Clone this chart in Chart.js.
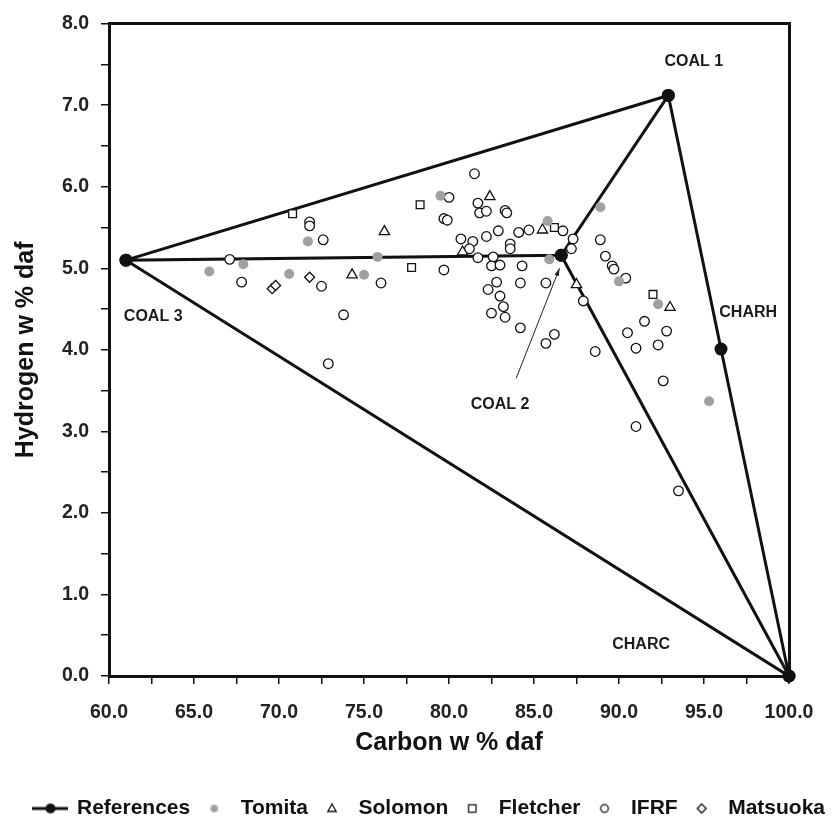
<!DOCTYPE html>
<html>
<head>
<meta charset="utf-8">
<script src="https://cdn.jsdelivr.net/npm/chart.js@4"></script>
<style>
html, body { margin: 0; padding: 0; background: #fff; }
#wrap { width: 833px; height: 821px; position: relative; }
</style>
</head>
<body>
<div id="wrap"><canvas id="chart"></canvas></div>
<script>
// reference points: COAL 3, COAL 1, CHARH, CHARC, COAL 2
const refNames = ['COAL 3', 'COAL 1', 'CHARH', 'CHARC', 'COAL 2'];
const refC = [61.0, 92.9, 96.0, 100.0, 86.6];
const refH = [5.10, 7.12, 4.01, 0.0, 5.16];
// order in which the triangle lines are walked (two strokes)
const refPath1 = [0, 1, 2, 3, 0, 4, 1];
const refPath2 = [4, 3];

const tomitaC = [65.9, 67.9, 70.6, 71.7, 75.0, 75.8, 79.5, 85.8, 85.9, 88.9, 90.0, 92.3, 95.3];
const tomitaH = [4.96, 5.05, 4.93, 5.33, 4.92, 5.14, 5.89, 5.58, 5.11, 5.75, 4.84, 4.56, 3.37];

const solomonC = [74.3, 76.2, 80.8, 82.4, 85.5, 87.5, 93.0];
const solomonH = [4.92, 5.45, 5.20, 5.88, 5.47, 4.80, 4.52];

const fletcherC = [70.8, 77.8, 78.3, 86.2, 92.0];
const fletcherH = [5.67, 5.01, 5.78, 5.50, 4.68];

const ifrfC = [67.1, 67.8, 71.8, 71.8, 72.6, 72.5, 72.9, 73.8, 76.0, 79.7, 79.9, 80.0, 79.7,
  81.5, 81.7, 81.8, 82.2, 83.3, 83.4, 84.7, 84.1, 82.9, 82.2, 80.7, 81.4, 81.2, 83.6, 83.6,
  81.7, 82.6, 82.5, 83.0, 84.3, 86.7, 87.3, 87.2, 87.9, 82.8, 82.3, 84.2, 85.7, 83.0, 83.2,
  82.5, 83.3, 84.2, 86.2, 85.7, 88.6, 88.9, 89.2, 89.6, 89.7, 90.4, 90.5, 91.5, 92.8, 91.0,
  92.3, 92.6, 91.0, 93.5];
const ifrfH = [5.11, 4.83, 5.57, 5.52, 5.35, 4.78, 3.83, 4.43, 4.82, 5.61, 5.59, 5.87, 4.98,
  6.16, 5.80, 5.68, 5.70, 5.71, 5.68, 5.47, 5.44, 5.46, 5.39, 5.36, 5.33, 5.24, 5.30, 5.24,
  5.13, 5.14, 5.03, 5.04, 5.03, 5.46, 5.36, 5.24, 4.60, 4.83, 4.74, 4.82, 4.82, 4.66, 4.53,
  4.45, 4.40, 4.27, 4.19, 4.08, 3.98, 5.35, 5.15, 5.03, 4.99, 4.88, 4.21, 4.35, 4.23, 4.02,
  4.06, 3.62, 3.06, 2.27];

const matsuokaC = [69.6, 69.8, 71.8];
const matsuokaH = [4.75, 4.79, 4.89];

// text annotations (data units)
const noteText = ['COAL 1', 'COAL 3', 'CHARH', 'COAL 2', 'CHARC'];
const noteC = [94.4, 62.6, 97.6, 83.0, 91.3];
const noteH = [7.53, 4.41, 4.46, 3.33, 0.38];
const arrowFrom = [83.95, 3.65];
const arrowTo = [86.5, 5.0];

const xTicksMin = 60, xTicksMax = 100, xStep = 2.5;
const yTicksMin = 0, yTicksMax = 8, yStep = 0.5;

const FONT = "'Liberation Sans', Arial, sans-serif";
const INK = '#111';

const pts = (cs, hs) => cs.map((c, i) => ({ x: c, y: hs[i] }));
const path = (idx) => idx.map(i => ({ x: refC[i], y: refH[i] }));

// small icons for the legend
function icon(w, h, draw) {
    const c = document.createElement('canvas');
    c.width = w; c.height = h;
    const g = c.getContext('2d');
    g.strokeStyle = INK; g.fillStyle = '#fff'; g.lineWidth = 1.3;
    draw(g, w / 2, h / 2);
    return c;
}
const legendIcons = [
    icon(36, 14, (g, cx, cy) => {
        g.lineWidth = 3; g.beginPath(); g.moveTo(0, cy); g.lineTo(36, cy); g.stroke();
        g.fillStyle = INK; g.beginPath(); g.arc(cx, cy, 5, 0, Math.PI * 2); g.fill();
    }),
    null,
    icon(14, 14, (g, cx, cy) => { g.fillStyle = '#a0a0a0'; g.beginPath(); g.arc(cx, cy, 3.8, 0, Math.PI * 2); g.fill(); }),
    icon(14, 14, (g, cx, cy) => {
        g.beginPath(); g.moveTo(cx, cy - 4.5); g.lineTo(cx + 4.2, cy + 3); g.lineTo(cx - 4.2, cy + 3); g.closePath(); g.stroke();
    }),
    icon(14, 14, (g, cx, cy) => { g.strokeRect(cx - 3.7, cy - 3.7, 7.4, 7.4); }),
    icon(14, 14, (g, cx, cy) => { g.beginPath(); g.arc(cx, cy, 3.8, 0, Math.PI * 2); g.stroke(); }),
    icon(14, 14, (g, cx, cy) => {
        g.beginPath(); g.moveTo(cx, cy - 4.5); g.lineTo(cx + 4.5, cy); g.lineTo(cx, cy + 4.5); g.lineTo(cx - 4.5, cy); g.closePath(); g.stroke();
    })
];

const openMarker = { backgroundColor: '#fff', borderColor: INK, borderWidth: 1.3 };

// labels and arrow
const notes = {
    id: 'notes',
    afterDatasetsDraw(chart) {
        const { ctx, scales: { x, y } } = chart;
        ctx.save();
        ctx.font = 'bold 16px ' + FONT;
        ctx.fillStyle = '#1c1c1c';
        ctx.textAlign = 'center';
        ctx.textBaseline = 'middle';
        noteText.forEach((t, i) => ctx.fillText(t, x.getPixelForValue(noteC[i]), y.getPixelForValue(noteH[i])));

        const x0 = x.getPixelForValue(arrowFrom[0]), y0 = y.getPixelForValue(arrowFrom[1]);
        const x1 = x.getPixelForValue(arrowTo[0]), y1 = y.getPixelForValue(arrowTo[1]);
        const a = Math.atan2(y1 - y0, x1 - x0);
        ctx.strokeStyle = '#222';
        ctx.lineWidth = 1;
        ctx.beginPath(); ctx.moveTo(x0, y0); ctx.lineTo(x1, y1); ctx.stroke();
        ctx.fillStyle = '#222';
        ctx.beginPath();
        ctx.moveTo(x1, y1);
        ctx.lineTo(x1 - 8 * Math.cos(a - 0.3), y1 - 8 * Math.sin(a - 0.3));
        ctx.lineTo(x1 - 8 * Math.cos(a + 0.3), y1 - 8 * Math.sin(a + 0.3));
        ctx.closePath(); ctx.fill();
        ctx.restore();
    }
};

const tickFont = { family: FONT, size: 19.5, weight: 'bold' };
const titleFont = { family: FONT, size: 25, weight: 'bold' };

new Chart(document.getElementById('chart'), {
    type: 'scatter',
    data: {
        datasets: [
            { label: 'References', data: path(refPath1), showLine: true, borderColor: INK, borderWidth: 3,
              backgroundColor: INK, pointRadius: 6.5, pointBorderWidth: 0, order: 10, clip: false },
            { label: '', data: path(refPath2), showLine: true, borderColor: INK, borderWidth: 3,
              backgroundColor: INK, pointRadius: 6.5, pointBorderWidth: 0, order: 10, clip: false },
            { label: 'Tomita', data: pts(tomitaC, tomitaH), pointStyle: 'circle', pointRadius: 5,
              backgroundColor: '#a0a0a0', borderWidth: 0, order: 1 },
            { label: 'Solomon', data: pts(solomonC, solomonH), pointStyle: 'triangle', pointRadius: 6, ...openMarker, order: 1 },
            { label: 'Fletcher', data: pts(fletcherC, fletcherH), pointStyle: 'rect', pointRadius: 5.5, ...openMarker, order: 1 },
            { label: 'IFRF', data: pts(ifrfC, ifrfH), pointStyle: 'circle', pointRadius: 4.8, ...openMarker, order: 1 },
            { label: 'Matsuoka', data: pts(matsuokaC, matsuokaH), pointStyle: 'rectRot', pointRadius: 5, ...openMarker, order: 1 }
        ]
    },
    options: {
        responsive: true,
        maintainAspectRatio: false,
        animation: false,
        layout: { padding: { left: 0, right: 0, top: 0, bottom: -8 } },
        plugins: {
            tooltip: { enabled: false },
            legend: {
                position: 'bottom',
                align: 'end',
                labels: {
                    usePointStyle: true,
                    pointStyleWidth: 32,
                    padding: 8,
                    color: INK,
                    font: { family: FONT, size: 21, weight: 'bold' },
                    generateLabels(chart) {
                        return chart.data.datasets.map((ds, i) => ({
                            text: ds.label, datasetIndex: i, pointStyle: legendIcons[i],
                            fillStyle: 'transparent', strokeStyle: 'transparent', lineWidth: 0,
                            hidden: false, fontColor: INK
                        })).filter(l => l.text);
                    }
                }
            }
        },
        scales: {
            x: {
                type: 'linear', position: 'bottom',
                min: xTicksMin, max: xTicksMax,
                afterFit(s) { s.height = 114; },
                border: { color: INK, width: 3 },
                grid: { drawOnChartArea: false, drawTicks: true, tickLength: 8, color: INK, lineWidth: 1.5 },
                ticks: { stepSize: xStep, autoSkip: false, maxRotation: 0, padding: 17, color: '#222', font: tickFont,
                         callback: v => (v % 5 === 0 ? v.toFixed(1) : '') },
                title: { display: true, text: 'Carbon w % daf', color: INK, font: titleFont, padding: { top: 0, bottom: 32 } }
            },
            y: {
                type: 'linear', position: 'left',
                min: yTicksMin, max: yTicksMax,
                afterFit(s) { s.width = 109; },
                border: { color: INK, width: 3 },
                grid: { drawOnChartArea: false, drawTicks: true, tickLength: 8, color: INK, lineWidth: 1.5 },
                ticks: { stepSize: yStep, autoSkip: false, padding: 12, color: '#222', font: tickFont,
                         callback: v => (v % 1 === 0 ? v.toFixed(1) : '') },
                title: { display: true, text: 'Hydrogen w % daf', color: INK, font: titleFont, padding: { top: 11, bottom: 0 } }
            },
            x2: {
                type: 'linear', position: 'top', min: xTicksMin, max: xTicksMax,
                afterFit(s) { s.height = 19; },
                border: { color: INK, width: 3 },
                grid: { display: false },
                ticks: { display: false }
            },
            y2: {
                type: 'linear', position: 'right', min: yTicksMin, max: yTicksMax,
                afterFit(s) { s.width = 44; },
                border: { color: INK, width: 3 },
                grid: { display: false },
                ticks: { display: false }
            }
        }
    },
    plugins: [notes]
});
</script>
</body>
</html>
